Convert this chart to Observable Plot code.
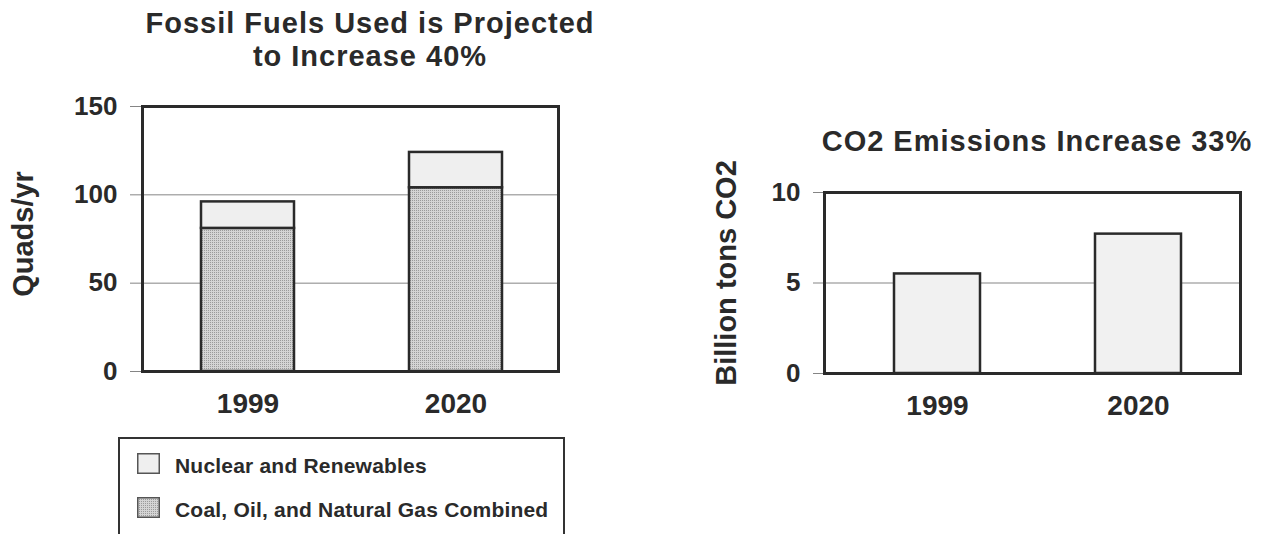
<!DOCTYPE html>
<html>
<head>
<meta charset="utf-8">
<script src="https://cdn.jsdelivr.net/npm/d3@7"></script>
<script src="https://cdn.jsdelivr.net/npm/@observablehq/plot@0.6"></script>
<style>
  html, body { margin: 0; padding: 0; background: #fff; }
  #page { position: relative; width: 1261px; height: 534px; overflow: hidden; background: #fff;
          font-family: "Liberation Sans", Arial, Helvetica, sans-serif; font-weight: bold; color: #2a2a2a; }
  .abs { position: absolute; }
  .title { text-align: center; white-space: nowrap; }
  .legtext { font-size: 21px; line-height: 21px; white-space: nowrap; letter-spacing: 0.2px; }
</style>
</head>
<body>
<div id="page">
  <div class="abs title" id="t1" style="left:120px; top:6.5px; width:500px; font-size:29px; line-height:33px; letter-spacing:1px;"></div>
  <div class="abs title" id="t2" style="left:787px; top:125px; width:500px; font-size:29px; line-height:33px; letter-spacing:1px;"></div>
  <div class="abs" id="left" style="left:0px; top:80px;"></div>
  <div class="abs" id="right" style="left:700px; top:170px;"></div>
  <div class="abs" style="left:118px; top:437px; width:447px; height:130px; border:2.5px solid #333; box-sizing:border-box;"></div>
  <div id="legend"></div>
</div>
<script>
// ---- data ----
const years = ["1999", "2020"];
const fossil = [81, 104];          // Coal, Oil, and Natural Gas Combined (Quads/yr)
const nuclear = [15, 20];          // Nuclear and Renewables (Quads/yr)
const co2 = [5.5, 7.7];            // Billion tons CO2
const seriesNames = ["Coal, Oil, and Natural Gas Combined", "Nuclear and Renewables"];
const legendOrder = ["Nuclear and Renewables", "Coal, Oil, and Natural Gas Combined"];
const energyTicks = [0, 50, 100, 150];
const co2Ticks = [0, 5, 10];
const title1Lines = ["Fossil Fuels Used is Projected", "to Increase 40%"];
const title2 = "CO2 Emissions Increase 33%";
const yLabel1 = "Quads/yr";
const yLabel2 = "Billion tons CO2";

// ---- styling ----
const FONT = '"Liberation Sans", Arial, Helvetica, sans-serif';
const INK = "#2a2a2a";
const GRID = "#858585";
const fillColors = {"Coal, Oil, and Natural Gas Combined": "url(#stipple)", "Nuclear and Renewables": "#efefef"};

document.getElementById("t1").innerHTML = title1Lines.join("<br>");
document.getElementById("t2").textContent = title2;

function addPattern(svg) {
  const ns = "http://www.w3.org/2000/svg";
  const defs = document.createElementNS(ns, "defs");
  defs.innerHTML = '<pattern id="stipple" width="2" height="2" patternUnits="userSpaceOnUse">' +
    '<rect width="2" height="2" fill="#d4d4d4"/><rect width="1" height="1" fill="#9a9a9a"/></pattern>';
  svg.insertBefore(defs, svg.firstChild);
}
function shiftLabel(svg, dy) {
  const g = svg.querySelector('[aria-label="y-axis label"]');
  if (g) g.setAttribute("transform", ((g.getAttribute("transform") || "") + " translate(0," + dy + ")").trim());
}

// ---- left chart: stacked energy bars ----
const energy = [];
years.forEach((y, i) => {
  energy.push({year: y, type: seriesNames[0], value: fossil[i]});
  energy.push({year: y, type: seriesNames[1], value: nuclear[i]});
});

const left = Plot.plot({
  width: 610, height: 350,
  marginTop: 26, marginBottom: 59, marginLeft: 142, marginRight: 52,
  style: {fontFamily: FONT, fontWeight: "bold", color: INK, background: "transparent", overflow: "visible"},
  x: {domain: years, paddingInner: 0.552, paddingOuter: 0.274, align: 0.51},
  y: {domain: [0, 150]},
  color: {domain: seriesNames, range: seriesNames.map(s => fillColors[s])},
  marks: [
    Plot.gridY(energyTicks, {stroke: GRID, strokeOpacity: 1, strokeWidth: 1}),
    Plot.axisY(energyTicks, {tickSize: 12, tickPadding: 13, fontSize: 26, stroke: GRID, strokeOpacity: 1, label: null}),
    Plot.axisY([], {label: yLabel1, labelAnchor: "center", labelOffset: 130, labelArrow: "none", fontSize: 29, tickSize: 0}),
    Plot.axisX(years, {tickSize: 0, tickPadding: 22, fontSize: 28, label: null}),
    Plot.barY(energy, {x: "year", y: "value", fill: "type", stroke: INK, strokeWidth: 2.5}),
    Plot.frame({stroke: INK, strokeWidth: 3})
  ]
});
addPattern(left);
shiftLabel(left, -5);
document.getElementById("left").appendChild(left);

// ---- right chart: CO2 bars ----
const co2Data = years.map((y, i) => ({year: y, value: co2[i]}));
const right = Plot.plot({
  width: 561, height: 260,
  marginTop: 22, marginBottom: 57, marginLeft: 124, marginRight: 21,
  style: {fontFamily: FONT, fontWeight: "bold", color: INK, background: "transparent", overflow: "visible"},
  x: {domain: years, paddingInner: 0.571, paddingOuter: 0.318, align: 0.545},
  y: {domain: [0, 10]},
  marks: [
    Plot.gridY(co2Ticks, {stroke: GRID, strokeOpacity: 1, strokeWidth: 1}),
    Plot.axisY(co2Ticks, {tickSize: 11, tickPadding: 13, fontSize: 26, stroke: GRID, strokeOpacity: 1, label: null}),
    Plot.axisY([], {label: yLabel2, labelAnchor: "center", labelOffset: 109, labelArrow: "none", fontSize: 29, tickSize: 0}),
    Plot.axisX(years, {tickSize: 0, tickPadding: 22, fontSize: 28, label: null}),
    Plot.barY(co2Data, {x: "year", y: "value", fill: "#f1f1f1", stroke: INK, strokeWidth: 2.5}),
    Plot.frame({stroke: INK, strokeWidth: 3})
  ]
});
shiftLabel(right, -10);
document.getElementById("right").appendChild(right);

// ---- legend ----
const leg = document.getElementById("legend");
const ns = "http://www.w3.org/2000/svg";
legendOrder.forEach((name, i) => {
  const top = 453 + i * 44;
  const sw = document.createElementNS(ns, "svg");
  sw.setAttribute("width", 23); sw.setAttribute("height", 21);
  sw.setAttribute("class", "abs");
  sw.style.left = "137px"; sw.style.top = top + "px";
  sw.innerHTML = (i === 1 ? '<defs><pattern id="stipple2" width="2" height="2" patternUnits="userSpaceOnUse"><rect width="2" height="2" fill="#d4d4d4"/><rect width="1" height="1" fill="#9a9a9a"/></pattern></defs>' : '') +
    '<rect x="0.75" y="0.75" width="21.5" height="19.5" fill="' + (i === 1 ? "url(#stipple2)" : fillColors[name]) + '" stroke="#555" stroke-width="1.5"/>';
  leg.appendChild(sw);
  const t = document.createElement("div");
  t.className = "abs legtext";
  t.style.left = "175px"; t.style.top = (455 + i * 44) + "px";
  t.textContent = name;
  leg.appendChild(t);
});
</script>
</body>
</html>
